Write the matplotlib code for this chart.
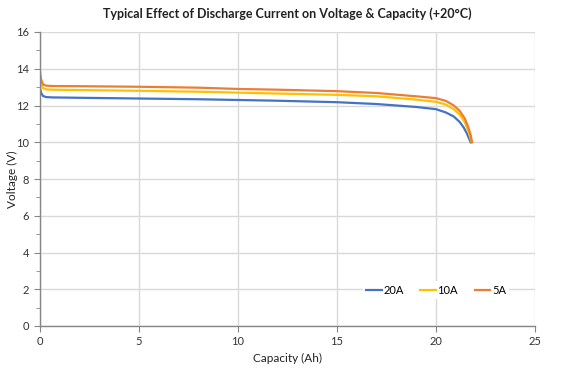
import matplotlib
matplotlib.use('Agg')
import matplotlib.pyplot as plt
from matplotlib.ticker import MultipleLocator

plt.rcParams['font.family'] = ['Lato', 'DejaVu Sans']

# Data
cap_20a = [0, 0.05, 0.15, 0.3, 0.6, 2, 5, 8, 10, 12, 15, 17, 19, 20, 20.5, 20.9, 21.2, 21.4, 21.55, 21.65, 21.75]
volt_20a = [12.95, 12.7, 12.52, 12.46, 12.44, 12.42, 12.38, 12.34, 12.3, 12.26, 12.18, 12.08, 11.92, 11.8, 11.62, 11.4, 11.1, 10.8, 10.5, 10.25, 10.0]

cap_10a = [0, 0.05, 0.15, 0.3, 0.6, 2, 5, 8, 10, 12, 15, 17, 19, 20, 20.5, 20.9, 21.2, 21.45, 21.6, 21.72, 21.8]
volt_10a = [13.5, 13.2, 12.95, 12.88, 12.86, 12.84, 12.8, 12.75, 12.7, 12.65, 12.58, 12.5, 12.32, 12.2, 12.05, 11.8, 11.5, 11.1, 10.7, 10.3, 10.0]

cap_5a = [0, 0.05, 0.15, 0.3, 0.6, 2, 5, 8, 10, 12, 15, 17, 19, 20, 20.5, 20.9, 21.2, 21.45, 21.62, 21.75, 21.82]
volt_5a = [13.85, 13.45, 13.15, 13.08, 13.06, 13.05, 13.02, 12.97, 12.9, 12.86, 12.78, 12.68, 12.5, 12.4, 12.25, 12.0, 11.7, 11.3, 10.85, 10.4, 10.0]

fig = plt.figure(figsize=(5.64, 3.68), dpi=100)
ax = fig.add_axes([40 / 564, 1 - 326 / 368, 495 / 564, 294 / 368])

ax.plot(cap_20a, volt_20a, color='#4472C4', lw=1.6, label='20A')
ax.plot(cap_10a, volt_10a, color='#FFC000', lw=1.6, label='10A')
ax.plot(cap_5a, volt_5a, color='#ED7D31', lw=1.6, label='5A')

ax.set_xlim(0, 25)
ax.set_ylim(0, 16)
ax.xaxis.set_major_locator(MultipleLocator(5))
ax.yaxis.set_major_locator(MultipleLocator(2))
ax.yaxis.set_minor_locator(MultipleLocator(1))
ax.grid(True, which='major', color='#D9D9D9', lw=1)
ax.set_axisbelow(True)

for side in ['top', 'right']:
    ax.spines[side].set_visible(False)
for side in ['left', 'bottom']:
    ax.spines[side].set_color('#868686')
    ax.spines[side].set_linewidth(1)

ax.tick_params(which='major', length=4, color='#868686', labelsize=8, labelcolor='#333333')
ax.tick_params(axis='y', which='major', pad=4)
ax.tick_params(which='minor', length=3, color='#868686')
ax.tick_params(axis='x', which='minor', length=0)

ax.set_xlabel('Capacity (Ah)', fontsize=8.5, color='#222222', labelpad=4)
ax.set_ylabel('Voltage (V)', fontsize=8.5, color='#222222')
ax.yaxis.set_label_coords(-0.045, 0.5)
ax.set_title('Typical Effect of Discharge Current on Voltage & Capacity (+20°C)',
             fontsize=9, fontweight='bold', color='#222222', pad=10)

leg = ax.legend(ncol=3, loc='center', bbox_to_anchor=(0.80, 0.122), frameon=True,
                fontsize=8, handlelength=1.4, handletextpad=0.15, columnspacing=1.5,
                borderpad=0.3)
leg.get_frame().set_facecolor('white')
leg.get_frame().set_edgecolor('none')
leg.get_frame().set_alpha(1)

fig.savefig('out.png', dpi=100)
